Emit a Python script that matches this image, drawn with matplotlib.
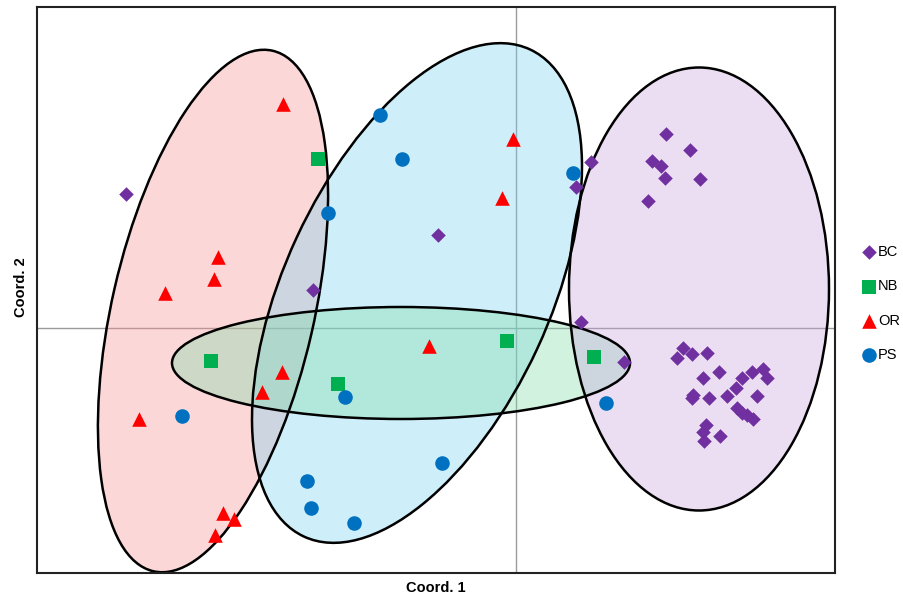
import matplotlib
matplotlib.use("Agg")
import matplotlib.pyplot as plt
from matplotlib.patches import Ellipse

plt.rcParams['font.family'] = ['Liberation Sans', 'DejaVu Sans']

# PCoA coordinates
bc_x = [-3.90, -2.03, -0.78, 0.75, 0.60, 0.65, 1.08, 1.50, 1.74, 1.36, 1.45, 1.49, 1.84, 1.32,
        1.67, 1.61, 1.76, 1.91, 2.03, 1.87, 2.26, 2.36, 2.47, 2.51, 2.20, 2.11, 2.41, 1.77,
        1.76, 1.93, 2.21, 2.26, 2.31, 2.37, 1.90, 1.87, 2.04, 1.88]
bc_y = [1.34, 0.38, 0.93, 1.66, 1.41, 0.06, -0.34, 1.94, 1.78, 1.67, 1.62, 1.50, 1.49, 1.27,
        -0.20, -0.30, -0.26, -0.25, -0.44, -0.50, -0.50, -0.44, -0.41, -0.50, -0.60, -0.68,
        -0.68, -0.67, -0.70, -0.70, -0.80, -0.85, -0.87, -0.91, -0.97, -1.04, -1.08, -1.13]
nb_x = [-1.98, -3.05, -1.78, -0.09, 0.78]
nb_y = [1.69, -0.33, -0.56, -0.13, -0.29]
or_x = [-2.33, -0.03, -0.14, -2.98, -3.02, -3.51, -2.34, -2.54, -0.87, -3.77, -2.93, -2.82, -3.01]
or_y = [2.24, 1.89, 1.30, 0.71, 0.49, 0.35, -0.44, -0.64, -0.18, -0.91, -1.85, -1.91, -2.07]
ps_x = [-1.36, -1.14, -1.88, 0.57, -3.34, -1.71, 0.90, -0.74, -2.09, -2.05, -1.62]
ps_y = [2.13, 1.69, 1.15, 1.55, -0.88, -0.69, -0.75, -1.35, -1.53, -1.80, -1.95]

# confidence ellipses: centre x, centre y, width, height, angle
ell_or = (-3.03, 0.17, 2.02, 5.34, -12.9)
ell_ps = (-0.99, 0.35, 2.65, 5.37, -24.9)
ell_nb = (-1.15, -0.35, 4.58, 1.12, 0.0)
ell_bc = (1.83, 0.39, 2.60, 4.43, 0.0)

fig = plt.figure(figsize=(9.04, 5.98), dpi=100)
ax = fig.add_axes([37 / 904, 25 / 598, 798 / 904, 566 / 598])

for e, col in [(ell_or, '#f99092'), (ell_ps, '#79d4f1'), (ell_nb, '#7fdca8'), (ell_bc, '#c9a4dd')]:
    cx, cy, w, h, ang = e
    ax.add_patch(Ellipse((cx, cy), w, h, angle=ang, facecolor=col, alpha=0.36,
                         edgecolor='none', zorder=1))
    ax.add_patch(Ellipse((cx, cy), w, h, angle=ang, facecolor='none',
                         edgecolor='black', linewidth=1.8, zorder=2))

ax.axhline(0, color='#9a9a9a', linewidth=1, zorder=0.5)
ax.axvline(0, color='#9a9a9a', linewidth=1, zorder=0.5)

ax.scatter(bc_x, bc_y, marker='D', s=55, color='#7030a0', label='BC', zorder=3, linewidths=0)
ax.scatter(nb_x, nb_y, marker='s', s=110, color='#00b050', label='NB', zorder=3, linewidths=0)
ax.scatter(or_x, or_y, marker='^', s=110, color='#ff0000', label='OR', zorder=3, linewidths=0)
ax.scatter(ps_x, ps_y, marker='o', s=110, color='#0070c0', label='PS', zorder=3, linewidths=0)

ax.set_xlim(-4.79, 3.19)
ax.set_ylim(-2.45, 3.21)
ax.set_xticks([])
ax.set_yticks([])
for sp in ax.spines.values():
    sp.set_linewidth(1.5)
    sp.set_color('#222222')

fig.text(436 / 904, 1 - 588 / 598, 'Coord. 1', ha='center', va='center',
         fontsize=10.5, fontweight='bold')
fig.text(21 / 904, 1 - 287 / 598, 'Coord. 2', ha='center', va='center',
         rotation=90, fontsize=10.5, fontweight='bold')

fig.legend(loc='upper left', bbox_to_anchor=(862 / 904, 1 - 245 / 598), frameon=False,
           fontsize=10.5, handletextpad=0.2, labelspacing=1.4, handlelength=0.9,
           borderaxespad=0, borderpad=0, markerscale=1.0)

fig.savefig('out.png', dpi=100)
